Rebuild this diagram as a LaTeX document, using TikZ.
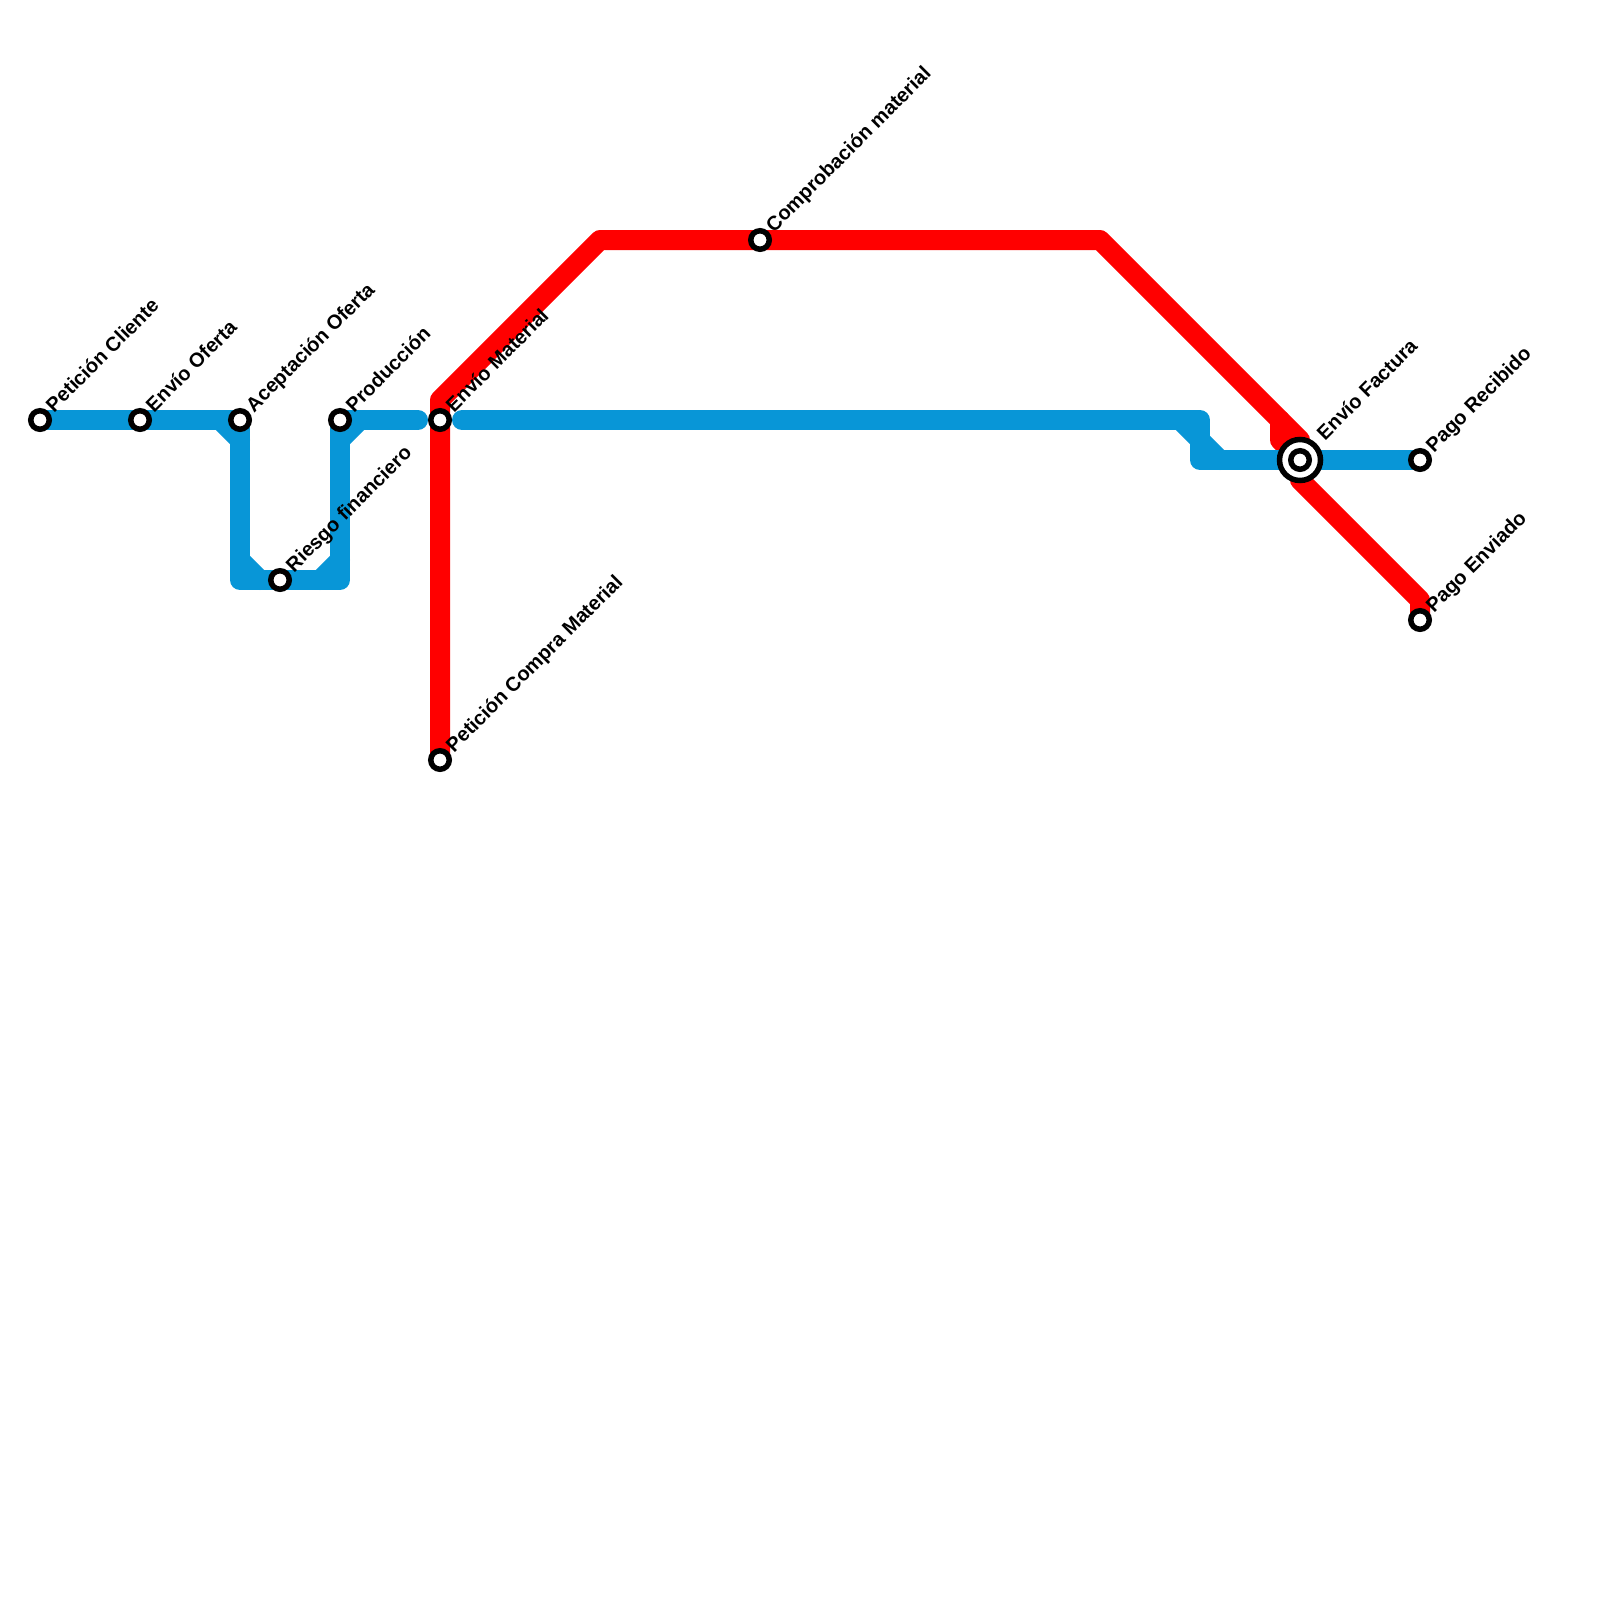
\documentclass[tikz,border=0pt]{standalone}
\usepackage{fontspec}
\setmainfont{Liberation Sans}
\usetikzlibrary{backgrounds}
\definecolor{lineblue}{HTML}{0896D7}
\definecolor{linered}{HTML}{FF0000}
\tikzset{
  metro/.style={line width=20pt,line join=round,line cap=round},
  bluemetro/.style={metro,draw=lineblue},
  redmetro/.style={metro,draw=linered},
  stop/.style={circle,draw=black,fill=white,line width=5.5pt,minimum size=18.5pt,inner sep=0pt,outer sep=0pt},
  hub/.style={circle,draw=black,fill=white,line width=5.5pt,minimum size=41pt,inner sep=0pt,outer sep=0pt},
  stoplabel/.style={anchor=base west,rotate=45,inner sep=0pt,outer sep=0pt,font=\bfseries\fontsize{20pt}{22pt}\selectfont,text=black}
}
\begin{document}
\begin{tikzpicture}[x=1pt,y=-1pt]
\useasboundingbox (0,0) rectangle (1600,1600);
% stations
\node[stop] (s1) at (40,420) {};
\node[stop] (s2) at (140,420) {};
\node[stop] (s3) at (240,420) {};
\node[stop] (s4) at (280,580) {};
\node[stop] (s5) at (340,420) {};
\node[stop] (s6) at (440,420) {};
\node[stop] (s7) at (440,760) {};
\node[stop] (s8) at (760,240) {};
\node[hub] (h9) at (1300,460) {};
\node[stop] (s9) at (1300,460) {};
\node[stop] (s10) at (1420,460) {};
\node[stop] (s11) at (1420,620) {};
% waypoints
\coordinate (bl) at (240,580);
\coordinate (br) at (340,580);
\coordinate (bend1) at (418,420);
\coordinate (bend2) at (462,420);
\coordinate (tr) at (1200,420);
\coordinate (trb) at (1200,460);
\coordinate (r1) at (440,400);
\coordinate (r2) at (600,240);
\coordinate (r3) at (1100,240);
\coordinate (r4) at (1300,440);
\coordinate (r5) at (1300,480);
\coordinate (r6) at (1420,600);
\coordinate (ra) at (1280,420);
\coordinate (rb) at (1280,440);
\begin{scope}[on background layer]
\draw[redmetro] (s7.center) -- (r1) -- (r2) -- (r3) -- (r4) -- (r5) -- (r6) -- (s11.center);
\draw[redmetro] (ra) -- (rb) -- (h9.center);
\draw[bluemetro] (s1.center) -- (s3.center) -- (bl) -- (br) -- (s5.center) -- (bend1);
\draw[bluemetro] (220,420) -- (240,440);
\draw[bluemetro] (240,560) -- (260,580);
\draw[bluemetro] (320,580) -- (340,560);
\draw[bluemetro] (340,440) -- (360,420);
\draw[bluemetro] (bend2) -- (tr) -- (trb) -- (s10.center);
\draw[bluemetro] (1180,420) -- (1200,440) -- (1220,460);
\end{scope}
% labels
\node[stoplabel] (l1) at (54,413) {Petición Cliente};
\node[stoplabel] (l2) at (154,413) {Envío Oferta};
\node[stoplabel] (l3) at (254,413) {Aceptación Oferta};
\node[stoplabel] (l4) at (294,573) {Riesgo financiero};
\node[stoplabel] (l5) at (354,413) {Producción};
\node[stoplabel] (l6) at (454,413) {Envío Material};
\node[stoplabel] (l7) at (454,753) {Petición Compra Material};
\node[stoplabel] (l8) at (774,233) {Comprobación material};
\node[stoplabel] (l9) at (1325,441) {Envío Factura};
\node[stoplabel] (l10) at (1434,453) {Pago Recibido};
\node[stoplabel] (l11) at (1434,613) {Pago Enviado};
\end{tikzpicture}
\end{document}
